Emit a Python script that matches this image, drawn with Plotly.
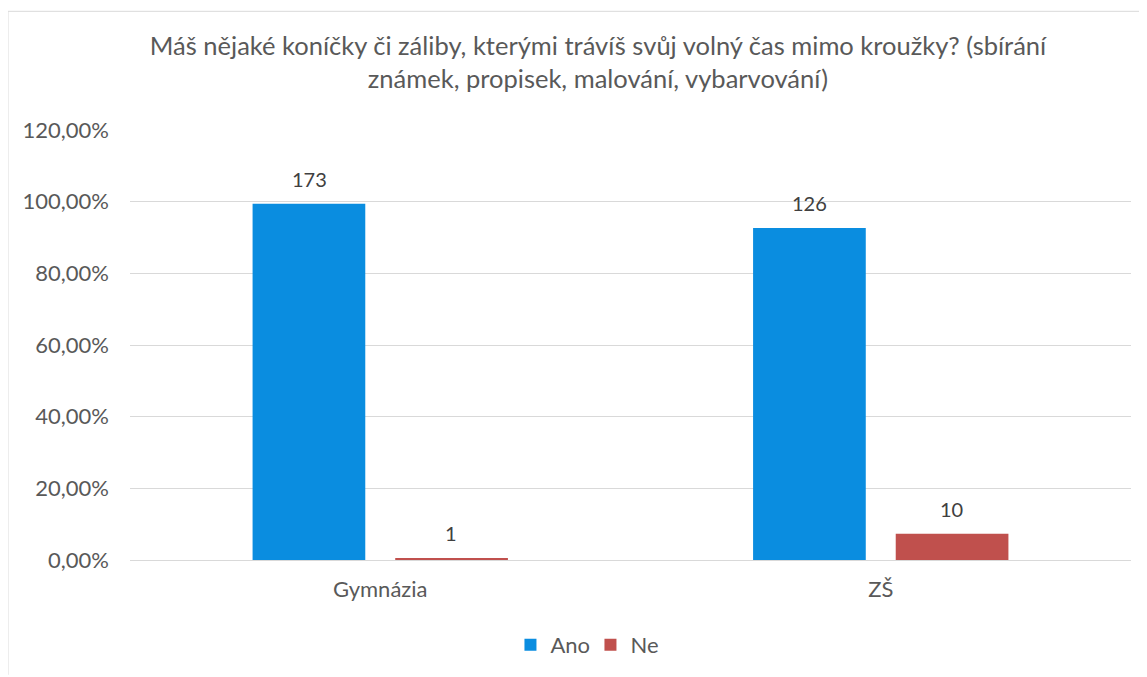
import plotly.graph_objects as go

categories = ["Gymnázia", "ZŠ"]
ano_pct = [173 / 174, 126 / 136]
ne_pct = [1 / 174, 10 / 136]
ano_counts = [173, 126]
ne_counts = [1, 10]
tick_vals = [0, 0.2, 0.4, 0.6, 0.8, 1.0, 1.2]

title = ("Máš nějaké koníčky či záliby, kterými trávíš svůj volný čas mimo kroužky? (sbírání<br>"
         "známek, propisek, malování, vybarvování)")

font_family = "Lato, 'Open Sans', sans-serif"
BLUE = "#0A8DE0"
RED = "#C0504D"

fig = go.Figure()
fig.add_trace(go.Bar(name="Ano", x=categories, y=ano_pct,
                     marker=dict(color=BLUE, line=dict(width=0))))
fig.add_trace(go.Bar(name="Ne", x=categories, y=ne_pct,
                     marker=dict(color=RED, line=dict(width=0))))

annotations = []
for cat, v, c in zip(categories, ano_pct, ano_counts):
    annotations.append(dict(x=cat, y=v, xref="x", yref="y", text=str(c), showarrow=False,
                            xshift=-71, yanchor="bottom", yshift=11,
                            font=dict(size=20, color="#404040", family=font_family)))
for cat, v, c in zip(categories, ne_pct, ne_counts):
    annotations.append(dict(x=cat, y=v, xref="x", yref="y", text=str(c), showarrow=False,
                            xshift=71, yanchor="bottom", yshift=11,
                            font=dict(size=20, color="#404040", family=font_family)))

fig.update_layout(
    width=1139, height=669,
    margin=dict(l=122, r=16, t=122, b=116),
    paper_bgcolor="white", plot_bgcolor="white",
    separators=", ",
    font=dict(family=font_family, color="#595959", size=20),
    title=dict(text=title, x=0.518, xanchor="center", y=0.93, yanchor="top",
               font=dict(size=25.5, color="#595959", family=font_family)),
    barmode="group", bargap=0.43, bargroupgap=0.21,
    showlegend=True,
    legend=dict(orientation="h", x=0.460, xanchor="center", y=-0.195, yanchor="middle",
                font=dict(size=22, color="#595959"), itemwidth=30, traceorder="normal",
                entrywidth=35, entrywidthmode="pixels"),
    xaxis=dict(showgrid=False, showline=True, linecolor="#D9D9D9", linewidth=1,
               tickfont=dict(size=22, color="#595959"), ticks="",
               ticklabelstandoff=10),
    yaxis=dict(range=[0, 1.2], tickvals=tick_vals, tickformat=".2%",
               showgrid=True, gridcolor="#D9D9D9", gridwidth=1,
               zeroline=False, showline=False, ticks="",
               ticklabelstandoff=20,
               tickfont=dict(size=22, color="#595959")),
    annotations=annotations,
    shapes=[
        dict(type="line", xref="paper", yref="paper", x0=-0.1219, x1=-0.1219,
             y0=1.276, y1=-0.267, line=dict(color="#D9D9D9", width=1)),
        dict(type="line", xref="paper", yref="paper", x0=-0.1219, x1=1.05,
             y0=1.276, y1=1.276, line=dict(color="#D9D9D9", width=1)),
    ],
)

fig.write_html("out.html")
